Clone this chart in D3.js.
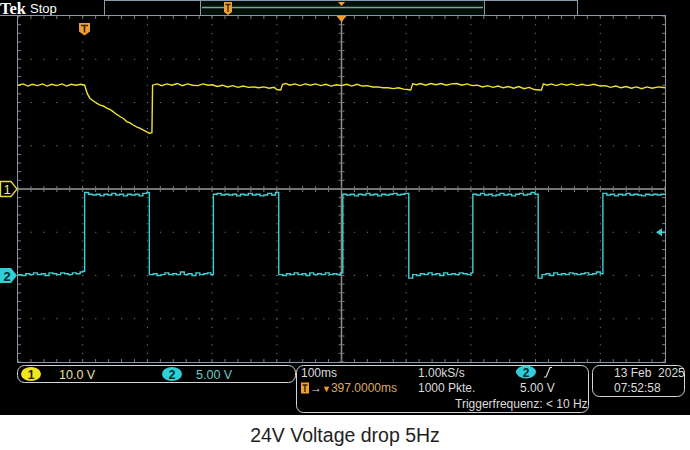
<!DOCTYPE html>
<html><head><meta charset="utf-8">
<script src="https://cdn.jsdelivr.net/npm/d3@7"></script>
<style>html,body{margin:0;padding:0;background:#fff}svg text{white-space:pre}</style>
</head><body><svg id="c" width="690" height="450"></svg>
<script>
// ---- data (time in ms across 10 div × 100 ms, volts) ----
const ch1Time = [0,8,15,22,30,38,45,52,60,68,75,82,90,97,103,107,111,116,122,127,132,137,142,147,152,158,163,168,173,178,184,189,194,199,203,207,208,215,222,230,238,246,254,262,270,278,286,294,300,308,316,324,332,340,348,356,364,372,380,388,396,400,406,409,414,420,428,436,444,452,460,468,476,484,492,500,508,516,524,532,540,548,556,564,572,580,588,596,602,607,610,616,622,630,638,646,654,662,670,678,686,694,702,710,718,726,734,742,750,758,766,774,782,790,798,805,809,812,818,824,832,840,848,856,864,872,880,890,900,908,916,924,932,940,948,956,964,972,980,990,1000];
const ch1Volt = [24.0,24.3,23.8,24.2,23.9,24.3,23.8,24.2,23.9,24.3,23.8,24.2,24.0,24.2,24.0,22.1,21.0,20.4,19.8,19.4,19.2,18.7,18.4,17.9,17.3,16.7,16.3,15.6,15.3,14.8,14.3,14.0,13.6,13.2,12.9,13.0,24.0,24.3,23.9,24.3,24.0,24.4,23.9,24.3,24.0,23.9,24.3,24.0,24.1,23.7,24.0,23.6,23.9,23.5,23.8,23.5,23.6,23.4,23.6,23.3,23.5,23.0,22.9,24.2,24.4,24.0,24.3,23.9,24.3,24.0,24.3,23.9,24.2,23.8,24.1,23.9,24.2,23.8,24.2,23.8,23.9,23.6,23.6,23.4,23.4,23.2,23.4,23.1,23.0,22.9,24.3,24.1,24.4,24.0,24.4,24.1,24.4,24.0,24.3,24.4,24.0,24.3,23.9,24.0,23.6,23.9,23.5,23.8,23.4,23.7,23.3,23.7,23.2,23.5,23.0,22.9,22.9,24.3,24.0,24.3,23.9,24.3,24.0,24.3,23.9,24.2,23.9,24.2,23.8,23.9,23.5,23.8,23.4,23.7,23.3,23.6,23.2,23.6,23.3,23.6,23.4];
const ch2Time = [0,6,12,18,24,30,36,42,48,54,60,66,72,78,84,90,96,100,
 103,109,115,121,127,133,139,145,151,157,163,169,175,181,187,193,199,
 203,209,215,221,227,233,239,245,251,257,263,269,275,281,287,293,298,
 302,308,314,320,326,332,338,344,350,356,362,368,374,380,386,392,398,
 403,409,415,421,427,433,439,445,451,457,463,469,475,481,487,493,498,
 502,508,514,520,526,532,538,544,550,556,562,568,574,580,586,592,598,
 604,610,616,622,628,634,640,646,652,658,664,670,676,682,688,694,700,
 703,709,715,721,727,733,739,745,751,757,763,769,775,781,787,793,799,
 804,810,816,822,828,834,840,846,852,858,864,870,876,882,888,894,900,
 904,910,916,922,928,934,940,946,952,958,964,970,976,982,988,994,1000];
const ch2Volt = [0.1,0.0,0.2,0.1,0.3,0.1,0.2,0.0,0.3,0.2,0.1,0.3,0.2,0.1,0.3,0.2,0.4,0.5,
 9.6,9.4,9.3,9.4,9.2,9.4,9.3,9.5,9.3,9.4,9.2,9.4,9.3,9.4,9.2,9.5,9.6,
 0.1,0.2,0.0,0.1,0.3,0.1,0.2,0.1,0.4,0.1,0.2,0.0,0.3,0.1,0.2,0.3,0.1,
 9.4,9.5,9.3,9.4,9.3,9.4,9.2,9.4,9.3,9.5,9.3,9.4,9.2,9.3,9.5,9.3,9.6,
 0.1,0.0,0.2,0.1,0.3,0.1,0.2,0.0,0.3,0.1,0.2,0.1,0.3,0.1,0.2,0.1,0.3,
 9.4,9.3,9.4,9.2,9.4,9.3,9.5,9.3,9.4,9.2,9.4,9.3,9.4,9.5,9.3,9.4,9.5,
 -0.3,0.1,0.0,0.2,0.1,0.3,0.1,0.2,0.0,0.3,0.1,0.2,0.1,0.3,0.2,0.1,0.3,
 9.4,9.3,9.5,9.3,9.4,9.2,9.3,9.5,9.3,9.4,9.2,9.4,9.5,9.3,9.4,9.6,9.4,
 -0.3,0.1,0.2,0.0,0.3,0.1,0.2,0.1,0.3,0.2,0.1,0.2,0.3,0.1,0.2,0.4,0.2,
 9.5,9.3,9.4,9.2,9.4,9.3,9.5,9.3,9.4,9.3,9.2,9.4,9.3,9.4,9.3,9.4,9.4];
const timeDomain = [0, 1000];      // 100 ms/div
const ch1Domain = [-40, 40];       // 10.0 V/div, ground at centre
const ch2Domain = [-10, 30];       // 5.00 V/div, ground 2 div below centre
const triggerLevel = 5.0;
const ch1Scale = "10.0 V", ch2Scale = "5.00 V";
const timebase = "100ms", sampleRate = "1.00kS/s", points = "1000 Pkte.";
const trigDelay = "397.0000ms", trigFreq = "Triggerfrequenz: < 10 Hz";
const dateText = "13 Feb  2025", timeText = "07:52:58";
const caption = "24V Voltage drop 5Hz";

// ---- drawing ----
const svg = d3.select("#c");
const F = "Liberation Sans, Arial, sans-serif";
const L = 18, R = 665, T = 16, B = 362;
const x = d3.scaleLinear().domain(timeDomain).range([L, R]);
const y1 = d3.scaleLinear().domain(ch1Domain).range([B, T]);
const y2 = d3.scaleLinear().domain(ch2Domain).range([B, T]);

svg.append("rect").attr("width",690).attr("height",450).attr("fill","#fff");
svg.append("rect").attr("width",690).attr("height",415).attr("fill","#000");

// top status bar
const border = "#8a98ae";
svg.append("rect").attr("x",200.5).attr("y",0.5).attr("width",284).attr("height",15).attr("fill","#03100a").attr("stroke",border);
svg.append("rect").attr("x",104.5).attr("y",0.5).attr("width",96).attr("height",15).attr("fill","#000").attr("stroke",border);
svg.append("rect").attr("x",484.5).attr("y",0.5).attr("width",93).attr("height",15).attr("fill","#000").attr("stroke",border);
svg.append("line").attr("x1",0).attr("x2",104).attr("y1",15.5).attr("y2",15.5).attr("stroke",border);
svg.append("line").attr("x1",202).attr("x2",483).attr("y1",7.5).attr("y2",7.5).attr("stroke","#7fa48e").attr("stroke-width",1.5);
svg.append("text").attr("x",0).attr("y",14).attr("font-family","Liberation Serif, serif").attr("font-weight","bold").attr("font-size",16.5).attr("fill","#fff").text("Tek");
svg.append("text").attr("x",30).attr("y",13).attr("font-family",F).attr("font-size",13).attr("fill","#fff").text("Stop");
// record view trigger marker & position
const recX = 228;
svg.append("path").attr("d",`M${recX-4},2 H${recX+4} V12 L${recX},15 L${recX-4},12 Z`).attr("fill","#f0a030");
svg.append("path").attr("d",`M${recX-2.5},4.5 H${recX+2.5} M${recX},4.5 V12`).attr("stroke","#3a2300").attr("stroke-width",1.3);
svg.append("path").attr("d",`M${x(500)-3.5},2 L${x(500)+3.5},2 L${x(500)},6 Z`).attr("fill","#f0a030");

// graticule
const g = svg.append("g");
const xDiv = d3.range(timeDomain[0], timeDomain[1]+1, 100);
const yDiv = d3.range(ch1Domain[0], ch1Domain[1]+1, 10);
const xMin = d3.range(timeDomain[0], timeDomain[1]+1, 20);
const yMin = d3.range(ch1Domain[0], ch1Domain[1]+1, 2);
const dotC = "#7a7a7a";
xDiv.slice(1,-1).filter(d=>d!==500).forEach(xd=>{
  yMin.forEach(ym=>g.append("rect").attr("x",x(xd)-0.5).attr("y",y1(ym)-0.5).attr("width",1).attr("height",1.2).attr("fill",dotC));
});
yDiv.slice(1,-1).filter(d=>d!==0).forEach(yd=>{
  xMin.forEach(xm=>g.append("rect").attr("x",x(xm)-0.5).attr("y",y1(yd)-0.5).attr("width",1.2).attr("height",1).attr("fill",dotC));
});
// centre lines
g.append("line").attr("x1",x(500)).attr("x2",x(500)).attr("y1",T).attr("y2",B).attr("stroke","#8e8e8e").attr("stroke-width",1.5);
g.append("line").attr("x1",L).attr("x2",R).attr("y1",y1(0)).attr("y2",y1(0)).attr("stroke","#9c9c9c").attr("stroke-width",1.5);
xMin.forEach(xm=>{
  g.append("line").attr("x1",x(xm)).attr("x2",x(xm)).attr("y1",y1(0)-3).attr("y2",y1(0)+3).attr("stroke",dotC);
  g.append("line").attr("x1",x(xm)).attr("x2",x(xm)).attr("y1",T).attr("y2",T+3).attr("stroke",dotC);
  g.append("line").attr("x1",x(xm)).attr("x2",x(xm)).attr("y1",B-3).attr("y2",B).attr("stroke",dotC);
});
yMin.forEach(ym=>{
  g.append("line").attr("x1",x(500)-3).attr("x2",x(500)+3).attr("y1",y1(ym)).attr("y2",y1(ym)).attr("stroke",dotC);
  g.append("line").attr("x1",L).attr("x2",L+3).attr("y1",y1(ym)).attr("y2",y1(ym)).attr("stroke",dotC);
  g.append("line").attr("x1",R-3).attr("x2",R).attr("y1",y1(ym)).attr("y2",y1(ym)).attr("stroke",dotC);
});
g.append("rect").attr("x",L-0.5).attr("y",T-0.5).attr("width",R-L+1).attr("height",B-T+1).attr("fill","none").attr("stroke",border);

// trigger position marker and trigger "T" marker
svg.append("path").attr("d",`M${x(500)-5},${T} L${x(500)+5},${T} L${x(500)},${T+6} Z`).attr("fill","#f0a030");
const tX = 84.5;
svg.append("path").attr("d",`M${tX-5.5},23 H${tX+5.5} V31.5 L${tX},35.5 L${tX-5.5},31.5 Z`).attr("fill","#f0a030");
svg.append("path").attr("d",`M${tX-3.5},25.5 H${tX+3.5} M${tX},25.5 V32.5`).attr("stroke","#3a2300").attr("stroke-width",1.6);

// traces
const line1 = d3.line().x((d,i)=>x(ch1Time[i])).y(d=>y1(d)).curve(d3.curveLinear);
const line2 = d3.line().x((d,i)=>x(ch2Time[i])).y(d=>y2(d)).curve(d3.curveStepAfter);
svg.append("path").attr("d",line2(ch2Volt)).attr("fill","none").attr("stroke","#3fd0d4").attr("stroke-width",1.4);
svg.append("path").attr("d",line1(ch1Volt)).attr("fill","none").attr("stroke","#ece42c").attr("stroke-width",1.4);

// channel ground markers
const g1 = y1(0), g2 = y2(0);
svg.append("path").attr("d",`M0.5,${g1-7.5} H11 L17,${g1} L11,${g1+7.5} H0.5 Z`).attr("fill","#000").attr("stroke","#e8dc30").attr("stroke-width",1.3);
svg.append("text").attr("x",7).attr("y",g1+5).attr("text-anchor","middle").attr("font-family",F).attr("font-size",13).attr("fill","#f2ea8a").text("1");
svg.append("path").attr("d",`M0,${g2-7.5} H11 L17,${g2} L11,${g2+7.5} H0 Z`).attr("fill","#2ecfd6");
svg.append("text").attr("x",7).attr("y",g2+5).attr("text-anchor","middle").attr("font-family",F).attr("font-weight","bold").attr("font-size",13).attr("fill","#0a2a2c").text("2");
// trigger level arrow
const tl = y2(triggerLevel);
svg.append("path").attr("d",`M656,${tl} L662,${tl-4} L662,${tl+4} Z`).attr("fill","#3fd0d4");
svg.append("line").attr("x1",661).attr("x2",665).attr("y1",tl).attr("y2",tl).attr("stroke","#3fd0d4").attr("stroke-width",1.5);

// bottom readout panel
const pS = "#d4d4d4", tc = "#dcdcdc";
svg.append("rect").attr("x",17.5).attr("y",365.5).attr("width",278).attr("height",17).attr("rx",7).attr("fill","#000").attr("stroke",pS);
svg.append("rect").attr("x",296.5).attr("y",365.5).attr("width",292).attr("height",47).attr("rx",7).attr("fill","#000").attr("stroke",pS);
svg.append("rect").attr("x",592.5).attr("y",365.5).attr("width",92).attr("height",31).attr("rx",7).attr("fill","#000").attr("stroke",pS);

svg.append("ellipse").attr("cx",31).attr("cy",374).attr("rx",10).attr("ry",7).attr("fill","#f2e51e");
svg.append("text").attr("x",31).attr("y",378.5).attr("text-anchor","middle").attr("font-family",F).attr("font-weight","bold").attr("font-size",12).attr("fill","#222").text("1");
svg.append("text").attr("x",59).attr("y",379).attr("font-family",F).attr("font-size",12.5).attr("fill","#e6e1a2").text(ch1Scale);
svg.append("ellipse").attr("cx",172).attr("cy",374).attr("rx",10).attr("ry",7).attr("fill","#2ecfd6");
svg.append("text").attr("x",172).attr("y",378.5).attr("text-anchor","middle").attr("font-family",F).attr("font-weight","bold").attr("font-size",12).attr("fill","#0a2a2c").text("2");
svg.append("text").attr("x",196).attr("y",379).attr("font-family",F).attr("font-size",12.5).attr("fill","#6ccbcb").text(ch2Scale);

svg.append("text").attr("x",301).attr("y",377).attr("font-family",F).attr("font-size",12).attr("fill",tc).text(timebase);
svg.append("path").attr("d","M301,382.5 H309 V393.5 H301 Z").attr("fill","#f0a030");
svg.append("path").attr("d","M302.5,385 H307.5 M305,385 V392").attr("stroke","#3a2300").attr("stroke-width",1.4);
const td = svg.append("text").attr("x",310).attr("y",392).attr("font-family",F).attr("font-size",12);
td.append("tspan").attr("fill",tc).text("→");
td.append("tspan").attr("fill","#f0a030").attr("font-size",9).text("▼");
td.append("tspan").attr("fill","#dca86a").text(trigDelay);
svg.append("text").attr("x",418).attr("y",377).attr("font-family",F).attr("font-size",12).attr("fill",tc).text(sampleRate);
svg.append("text").attr("x",418).attr("y",392).attr("font-family",F).attr("font-size",12).attr("fill",tc).text(points);
svg.append("ellipse").attr("cx",526).attr("cy",372).attr("rx",10).attr("ry",6.5).attr("fill","#2ecfd6");
svg.append("text").attr("x",526).attr("y",376.5).attr("text-anchor","middle").attr("font-family",F).attr("font-weight","bold").attr("font-size",12).attr("fill","#0a2a2c").text("2");
svg.append("path").attr("d","M544,377 H546 L550,367.5 H552").attr("fill","none").attr("stroke",tc).attr("stroke-width",1.2);
svg.append("text").attr("x",520).attr("y",392).attr("font-family",F).attr("font-size",12).attr("fill",tc).text(triggerLevel.toFixed(2)+" V");
svg.append("text").attr("x",455).attr("y",408).attr("font-family",F).attr("font-size",12).attr("fill",tc).text(trigFreq);
svg.append("text").attr("x",614).attr("y",377).attr("font-family",F).attr("font-size",12).attr("fill",tc).text(dateText);
svg.append("text").attr("x",614).attr("y",392).attr("font-family",F).attr("font-size",12).attr("fill",tc).text(timeText);

// caption
svg.append("text").attr("x",345).attr("y",442).attr("text-anchor","middle").attr("font-family",F).attr("font-size",19.5).attr("fill","#1e1e1e").text(caption);
</script></body></html>
